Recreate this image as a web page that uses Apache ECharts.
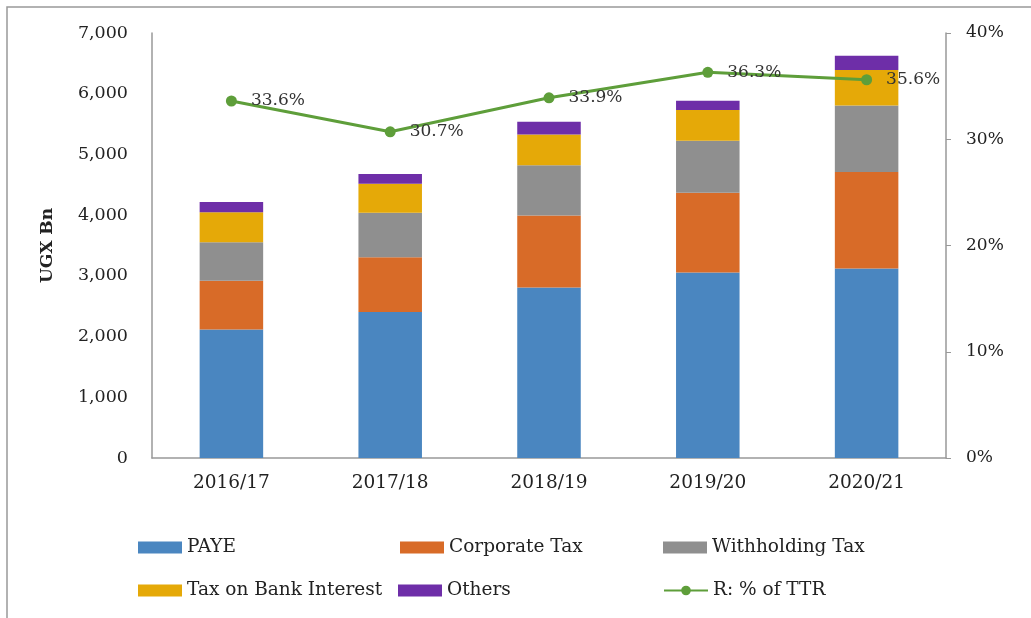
<!DOCTYPE html>
<html>
<head>
<meta charset="utf-8">
<script src="https://cdn.jsdelivr.net/npm/echarts@6/dist/echarts.min.js"></script>
<style>
html,body{margin:0;padding:0;background:#fff;}
#chart{width:1031px;height:618px;}
</style>
</head>
<body>
<div id="chart"></div>
<script>
const categories = ['2016/17', '2017/18', '2018/19', '2019/20', '2020/21'];
const paye = [2118, 2404, 2808, 3056, 3123];
const corporateTax = [800, 901, 1185, 1313, 1588];
const withholdingTax = [635, 733, 827, 855, 1093];
const bankInterestTax = [496, 480, 508, 507, 588];
const others = [166, 160, 211, 155, 232];
const ttrShare = [33.6, 30.7, 33.9, 36.3, 35.6];

const FONT = '"DejaVu Serif", "Liberation Serif", serif';
const chart = echarts.init(document.getElementById('chart'));

function barSeries(name, data, color) {
  return { name, type: 'bar', stack: 'total', data, barWidth: '40%',
    itemStyle: { color }, emphasis: { disabled: true } };
}
function leg(name, left, top, icon) {
  const l = { data: [{ name }], left, top, padding: 0, itemWidth: 44, itemHeight: 12,
    textStyle: { fontFamily: FONT, fontSize: 18.5, color: '#222' },
    selectedMode: false };
  if (icon) l.data[0].icon = icon;
  return l;
}

chart.setOption({
  animation: false,
  backgroundColor: '#fff',
  graphic: [{ type: 'rect', shape: { x: 7, y: 7, width: 1100, height: 700 },
    style: { fill: 'none', stroke: '#999', lineWidth: 1.5 }, silent: true }],
  grid: { left: 152, right: 85, top: 33, bottom: 160 },
  legend: [
    leg('PAYE', 138, 538, 'rect'), leg('Corporate Tax', 400, 538, 'rect'), leg('Withholding Tax', 663, 538, 'rect'),
    leg('Tax on Bank Interest', 138, 581, 'rect'), leg('Others', 398, 581, 'rect'), leg('R: % of TTR', 663, 581)
  ],
  xAxis: {
    type: 'category', data: categories,
    axisLine: { lineStyle: { color: '#999', width: 1.5 } },
    axisTick: { show: false },
    axisLabel: { fontFamily: FONT, fontSize: 18.5, color: '#222', margin: 16 }
  },
  yAxis: [{
    type: 'value', min: 0, max: 7000, interval: 1000,
    name: 'UGX Bn', nameLocation: 'middle', nameGap: 96,
    nameTextStyle: { fontFamily: FONT, fontSize: 17, fontWeight: 'bold', color: '#222' },
    axisLine: { show: true, lineStyle: { color: '#999', width: 1.5 } },
    axisTick: { show: false },
    splitLine: { show: false },
    axisLabel: { fontFamily: FONT, fontSize: 17.5, color: '#222', margin: 24,
      formatter: v => v.toLocaleString('en-US') }
  }, {
    type: 'value', min: 0, max: 40, interval: 10, position: 'right',
    axisLine: { show: true, lineStyle: { color: '#999', width: 1.5 } },
    axisTick: { show: true, length: 5, lineStyle: { color: '#999' } },
    splitLine: { show: false },
    axisLabel: { fontFamily: FONT, fontSize: 17, color: '#222', margin: 20, formatter: '{value}%' }
  }],
  series: [
    barSeries('PAYE', paye, '#4a86c0'),
    barSeries('Corporate Tax', corporateTax, '#d86b28'),
    barSeries('Withholding Tax', withholdingTax, '#8f8f8f'),
    barSeries('Tax on Bank Interest', bankInterestTax, '#e5a908'),
    barSeries('Others', others, '#6e2ea8'),
    {
      name: 'R: % of TTR', type: 'line', yAxisIndex: 1, data: ttrShare,
      symbol: 'circle', symbolSize: 11,
      lineStyle: { color: '#5e9e3a', width: 3 },
      itemStyle: { color: '#5e9e3a' },
      label: { show: true, position: 'right', distance: 14, fontFamily: FONT, fontSize: 17,
        color: '#333', formatter: p => p.value.toFixed(1) + '%' },
      z: 5
    }
  ]
});
</script>
</body>
</html>
